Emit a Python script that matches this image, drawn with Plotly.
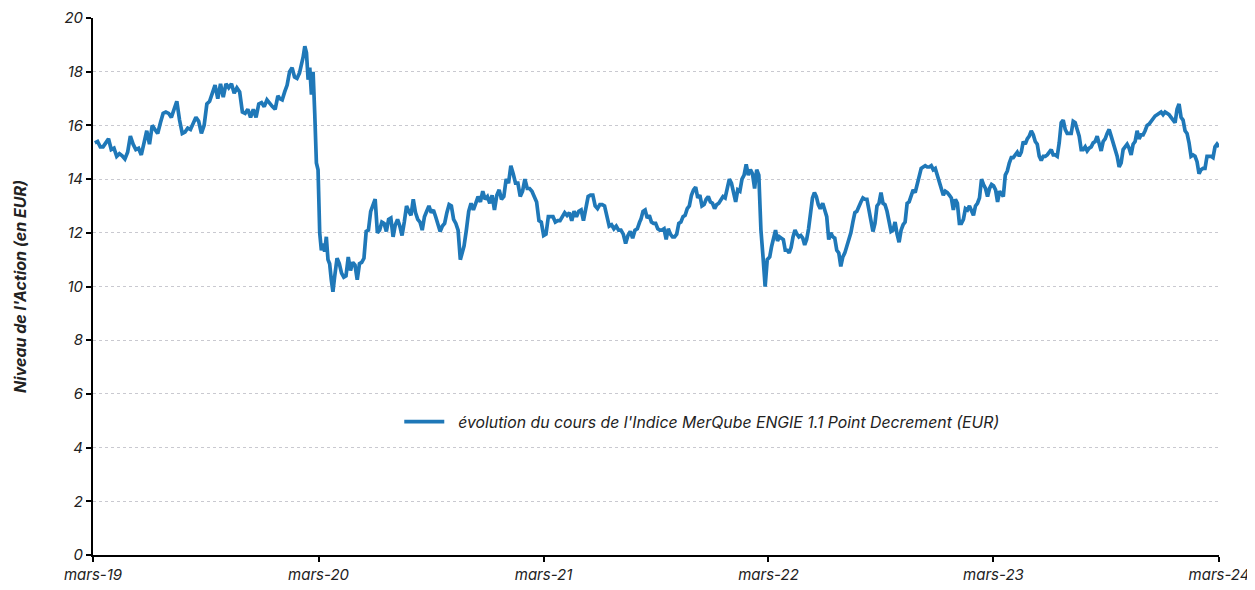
import pandas as pd
import plotly.graph_objects as go

# index level, split into stretches (start date, end date, values)
vals_a = [15.35, 15.4, 15.2, 15.2, 15.35, 15.5, 15.1, 15.15, 14.85, 14.95,
          14.87, 14.75, 15.0, 15.6, 15.3, 15.1, 15.15, 14.9, 15.35, 15.8,
          15.3, 16.0, 15.85, 15.7, 16.1, 16.45, 16.5, 16.45, 16.3, 16.6,
          16.9, 16.2, 15.7, 15.75, 15.9, 15.85, 16.1, 16.3, 16.15, 15.7,
          16.0, 16.8, 16.9, 17.2, 17.5, 17.0, 17.55, 17.05, 17.55, 17.4,
          17.55, 17.2, 17.4, 17.25, 16.5, 16.45, 16.6, 16.3, 16.6, 16.3,
          16.8, 16.85, 16.7, 16.95, 16.8, 16.7, 16.6, 17.1]
vals_b = [17.0, 16.95, 17.25, 17.5, 18.0, 18.15, 17.8, 17.75, 17.95, 18.3]
vals_c = [18.55, 18.95, 18.7, 17.7, 18.15, 17.15, 18.0, 16.45, 14.6, 14.35,
          12.0, 11.35, 11.6, 11.3, 11.85, 11.0, 10.85, 10.25, 9.8, 10.35]
vals_d = [11.05, 10.85, 10.5, 10.35, 10.4, 11.1, 10.6, 10.9, 10.8, 10.25,
          10.85, 10.9, 11.05, 12.05, 12.1, 12.8, 13.05, 13.25, 12.0, 12.1,
          12.4, 12.35, 12.05, 12.5, 12.55, 11.85, 12.3, 12.5, 12.25, 11.9,
          12.4, 13.0, 12.8, 12.65, 13.25, 12.75, 12.5, 12.4, 12.1, 12.6,
          12.8, 13.0, 12.75, 12.85, 12.6, 12.35, 12.05, 12.25, 12.35, 12.75,
          13.05, 13.0, 12.5, 12.35, 12.1, 11.0]
vals_e = [11.5, 12.1, 12.8, 13.1, 12.85, 13.1, 13.35, 13.15, 13.55, 13.25,
          13.35, 13.1, 13.4, 12.85, 13.4, 13.6, 13.25, 13.35, 14.0, 13.85,
          14.5, 14.2, 13.85, 13.85, 13.35, 13.55, 14.0, 13.65, 13.65, 13.55,
          13.35, 13.15, 12.45, 12.4, 11.9, 11.95, 12.6, 12.6, 12.6, 12.4,
          12.45, 12.45, 12.6, 12.75, 12.65, 12.75, 12.45, 12.8, 12.6, 12.8,
          12.85, 12.45, 12.9, 13.35, 13.4, 13.4, 13.0, 12.9, 13.05, 13.05,
          13.0, 12.55, 12.25, 12.3, 12.15, 12.25, 12.1, 12.1, 11.95, 11.6,
          11.9, 12.05, 11.8, 12.1, 12.15, 12.4]
vals_f = [12.5, 12.8, 12.85, 12.55, 12.65, 12.4, 12.35, 12.35, 12.15, 12.1,
          12.1, 12.15, 11.75, 12.15, 11.95, 11.85, 11.85, 11.95, 12.35, 12.4,
          12.6, 12.65, 12.9, 13.0, 13.4, 13.6, 13.7, 13.3, 13.4, 13.0,
          13.05, 13.25, 13.35, 13.15, 13.1, 12.9, 13.05, 13.1, 13.25, 13.35,
          13.3, 13.7, 14.0, 13.85, 13.5, 13.15, 13.6, 13.55, 14.0, 14.15,
          14.55, 14.15, 14.35, 14.2, 13.65, 14.35, 14.15, 12.1, 11.1, 10.0,
          11.0]
vals_g = [11.1, 11.5, 11.85, 12.1, 11.7, 11.85, 11.8, 11.75, 11.35, 11.35,
          11.25, 11.45, 11.85, 12.1, 11.95, 11.85, 11.9, 11.8, 11.55, 11.75,
          12.15, 12.85, 13.3, 13.5, 13.35, 13.05, 12.9]
vals_h = [13.1, 12.8, 12.6, 11.75, 12.0, 11.85, 11.8, 11.35, 11.25, 10.75,
          11.1, 11.25, 11.5, 11.85, 12.0, 12.4, 12.75, 12.8, 13.0, 13.15,
          13.3, 13.25, 13.25, 12.85, 12.35, 12.05, 12.35, 13.0, 13.1, 13.5,
          13.1, 13.05, 12.8, 12.35, 12.05, 12.1, 12.4, 11.95, 11.65, 12.1,
          12.3, 12.4, 13.1, 13.15, 13.35, 13.6, 13.5, 13.85, 14.2, 14.4,
          14.45, 14.5, 14.45, 14.45, 14.5, 14.35, 14.4, 14.15, 13.9, 13.75,
          13.4, 13.55, 13.5, 13.4, 13.3, 12.85, 13.25, 13.1, 12.35, 12.35,
          12.5, 12.9, 12.85, 13.0, 12.8, 12.65, 13.0, 13.1, 13.3, 14.0,
          13.8, 13.65, 13.35, 13.65, 13.8, 13.75, 13.6, 13.15, 13.55]
vals_i = [13.35, 14.15, 14.3, 14.6, 14.8, 14.8, 14.9, 15.0, 14.85, 15.0,
          15.4, 15.3, 15.5, 15.6, 15.8, 15.65, 15.4, 15.3, 14.85, 14.7,
          14.85, 14.85, 14.9, 15.0, 15.1, 14.9, 14.9, 14.85, 15.35, 16.1,
          16.2, 15.85, 15.7, 15.7, 15.7, 16.15, 16.1, 15.85, 15.6, 15.1,
          15.1, 15.2, 15.05, 15.15, 15.2, 15.35, 15.4, 15.6, 15.35, 15.05,
          15.4, 15.5, 15.7, 15.85, 15.6, 15.35, 15.1, 14.85, 14.45, 14.6,
          15.1, 15.2, 15.3, 15.15, 14.9, 15.3, 15.4, 15.8, 15.5, 15.65,
          15.65, 15.8, 16.0, 16.05, 16.15, 16.3, 16.35, 16.4, 16.45, 16.5,
          16.4, 16.5, 16.45, 16.4, 16.3, 16.2, 16.1, 16.6, 16.8, 16.3,
          16.2, 15.8, 15.7, 15.35, 14.85, 14.9, 14.85, 14.65, 14.2, 14.35,
          14.4, 14.4, 14.85, 14.85, 14.85, 14.8, 15.2, 15.3, 15.2]

stretches = [
    ("2019-03-04", "2019-12-26", vals_a),
    ("2019-12-29", "2020-02-03", vals_b),
    ("2020-02-05", "2020-03-27", vals_c),
    ("2020-03-31", "2020-10-17", vals_d),
    ("2020-10-23", "2021-08-04", vals_e),
    ("2021-08-06", "2022-02-27", vals_f),
    ("2022-03-03", "2022-05-24", vals_g),
    ("2022-05-28", "2023-03-11", vals_h),
    ("2023-03-17", "2024-03-01", vals_i),
]

tick_dates = ["2019-03-01", "2020-03-01", "2021-03-01", "2022-03-01", "2023-03-01", "2024-03-01"]
tick_labels = ["mars-19", "mars-20", "mars-21", "mars-22", "mars-23", "mars-24"]

dates = []
values = []
for start, end, vals in stretches:
    dates += list(pd.date_range(start, end, periods=len(vals)))
    values += vals

FONT = "Inter, 'Open Sans', sans-serif"

fig = go.Figure()
fig.add_trace(go.Scatter(
    x=dates, y=values, mode="lines",
    name="\u00a0\u00a0évolution du cours de l'Indice MerQube ENGIE 1.1 Point Decrement (EUR)",
    line={"color": "#1f78b8", "width": 3.7},
))

# the page body adds an 8px offset, so the figure is sized/margined to land the plot at the same spot
fig.update_layout(
    width=1247, height=582,
    margin={"l": 85, "r": 36, "t": 10, "b": 35},
    paper_bgcolor="white", plot_bgcolor="white",
    font={"family": FONT, "color": "#222222"},
    showlegend=True,
    legend={
        "x": 0.272, "y": 0.248, "xanchor": "left", "yanchor": "middle",
        "bgcolor": "rgba(255,255,255,0)", "itemwidth": 40,
        "font": {"size": 15.8, "style": "italic", "color": "#222222"},
    },
)
fig.update_xaxes(
    type="date", range=["2019-03-01", "2024-03-01"],
    tickvals=tick_dates, ticktext=tick_labels,
    tickfont={"size": 15, "style": "italic"}, ticklabeloverflow="allow",
    showline=True, linecolor="black", linewidth=2,
    ticks="outside", ticklen=5, tickwidth=2, tickcolor="black",
    showgrid=False, zeroline=False, automargin=False,
)
fig.update_yaxes(
    range=[0, 20], dtick=2,
    tickfont={"size": 15, "style": "italic"},
    showline=True, linecolor="black", linewidth=2,
    ticks="outside", ticklen=5, tickwidth=2, tickcolor="black",
    showgrid=True, gridcolor="#c9c9d0", griddash="dot", gridwidth=1,
    zeroline=False, automargin=False,
    title={"text": "Niveau de l'Action (en EUR)",
           "font": {"size": 16, "style": "italic", "weight": "bold"},
           "standoff": 34},
)

fig.write_html("out.html")
